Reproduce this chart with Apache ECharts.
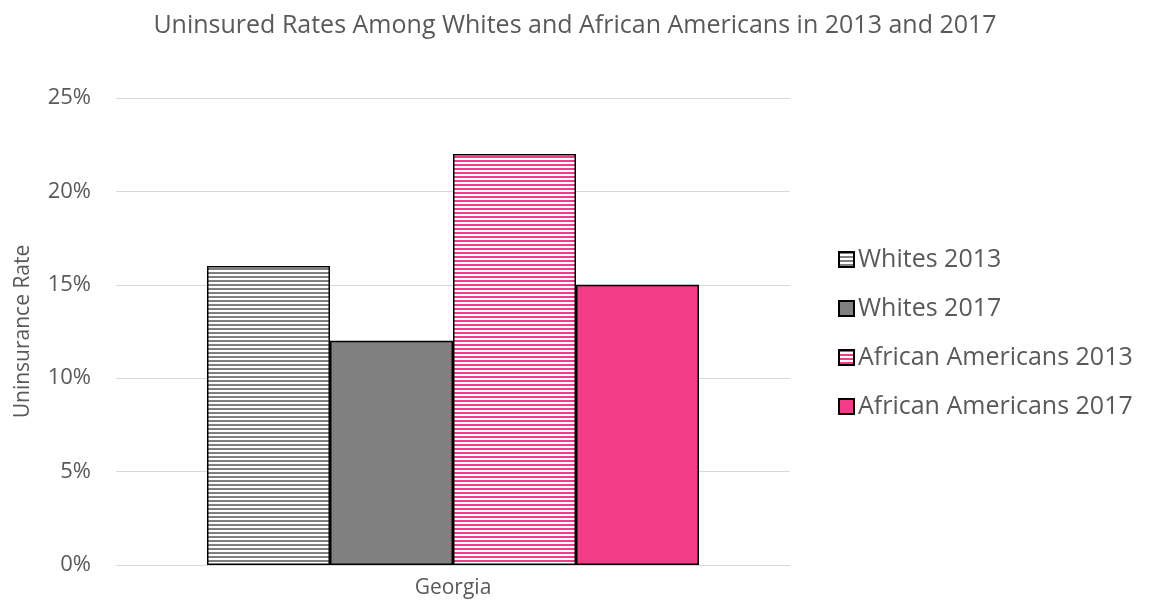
<!DOCTYPE html>
<html><head><meta charset="utf-8">
<script src="https://cdn.jsdelivr.net/npm/echarts@6/dist/echarts.min.js"></script>
<style>html,body{margin:0;padding:0;background:#fff}#c{width:1150px;height:611px}</style>
</head><body><div id="c"></div>
<script>
const categories = ['Georgia'];
const seriesNames = ['Whites 2013', 'Whites 2017', 'African Americans 2013', 'African Americans 2017'];
const whites2013 = [16];
const whites2017 = [12];
const africanAmericans2013 = [22];
const africanAmericans2017 = [15];
const yTicks = [0, 5, 10, 15, 20, 25];

function stripes(color) {
  const c = document.createElement('canvas');
  c.width = 8; c.height = 4;
  const g = c.getContext('2d');
  g.fillStyle = '#ffffff'; g.fillRect(0, 0, 8, 4);
  g.fillStyle = color; g.fillRect(0, 0, 8, 2);
  return { image: c, repeat: 'repeat' };
}
const grey = '#808080', pink = '#F33C87';
const font = '"Open Sans", "Liberation Sans", sans-serif';
const border = { borderColor: '#000', borderWidth: 1.5 };
const dataSets = [whites2013, whites2017, africanAmericans2013, africanAmericans2017];
const colors = [stripes(grey), grey, stripes(pink), pink];

const chart = echarts.init(document.getElementById('c'));
chart.setOption({
  animation: false,
  title: { text: 'Uninsured Rates Among Whites and African Americans in 2013 and 2017', left: 'center', top: 8,
    textStyle: { fontFamily: font, fontSize: 25, fontWeight: 'normal', color: '#595959' } },
  grid: { left: 116, right: 360, top: 98, bottom: 46 },
  legend: { orient: 'vertical', left: 833, top: 242, itemWidth: 15, itemHeight: 15, itemGap: 24,
    icon: 'rect',
    textStyle: { fontFamily: font, fontSize: 25, color: '#595959', padding: [0, 0, 0, -1] },
    data: seriesNames },
  xAxis: { type: 'category', data: categories,
    axisLine: { lineStyle: { color: '#d9d9d9', width: 1 } }, axisTick: { show: false },
    axisLabel: { fontFamily: font, fontSize: 21, color: '#595959', margin: 13 } },
  yAxis: { type: 'value', min: yTicks[0], max: yTicks[yTicks.length - 1], interval: 5,
    name: 'Uninsurance Rate', nameLocation: 'middle', nameGap: 82, nameRotate: 90,
    nameTextStyle: { fontFamily: font, fontSize: 21, color: '#595959' },
    axisLine: { show: false }, axisTick: { show: false },
    splitLine: { lineStyle: { color: '#d9d9d9', width: 1 } },
    axisLabel: { fontFamily: font, fontSize: 22, color: '#595959', margin: 25, formatter: v => v + '%' } },
  series: seriesNames.map((n, i) => ({
    name: n, type: 'bar', data: dataSets[i], barGap: '0%', barCategoryGap: '27%',
    itemStyle: Object.assign({ color: colors[i] }, border)
  }))
});
</script></body></html>
